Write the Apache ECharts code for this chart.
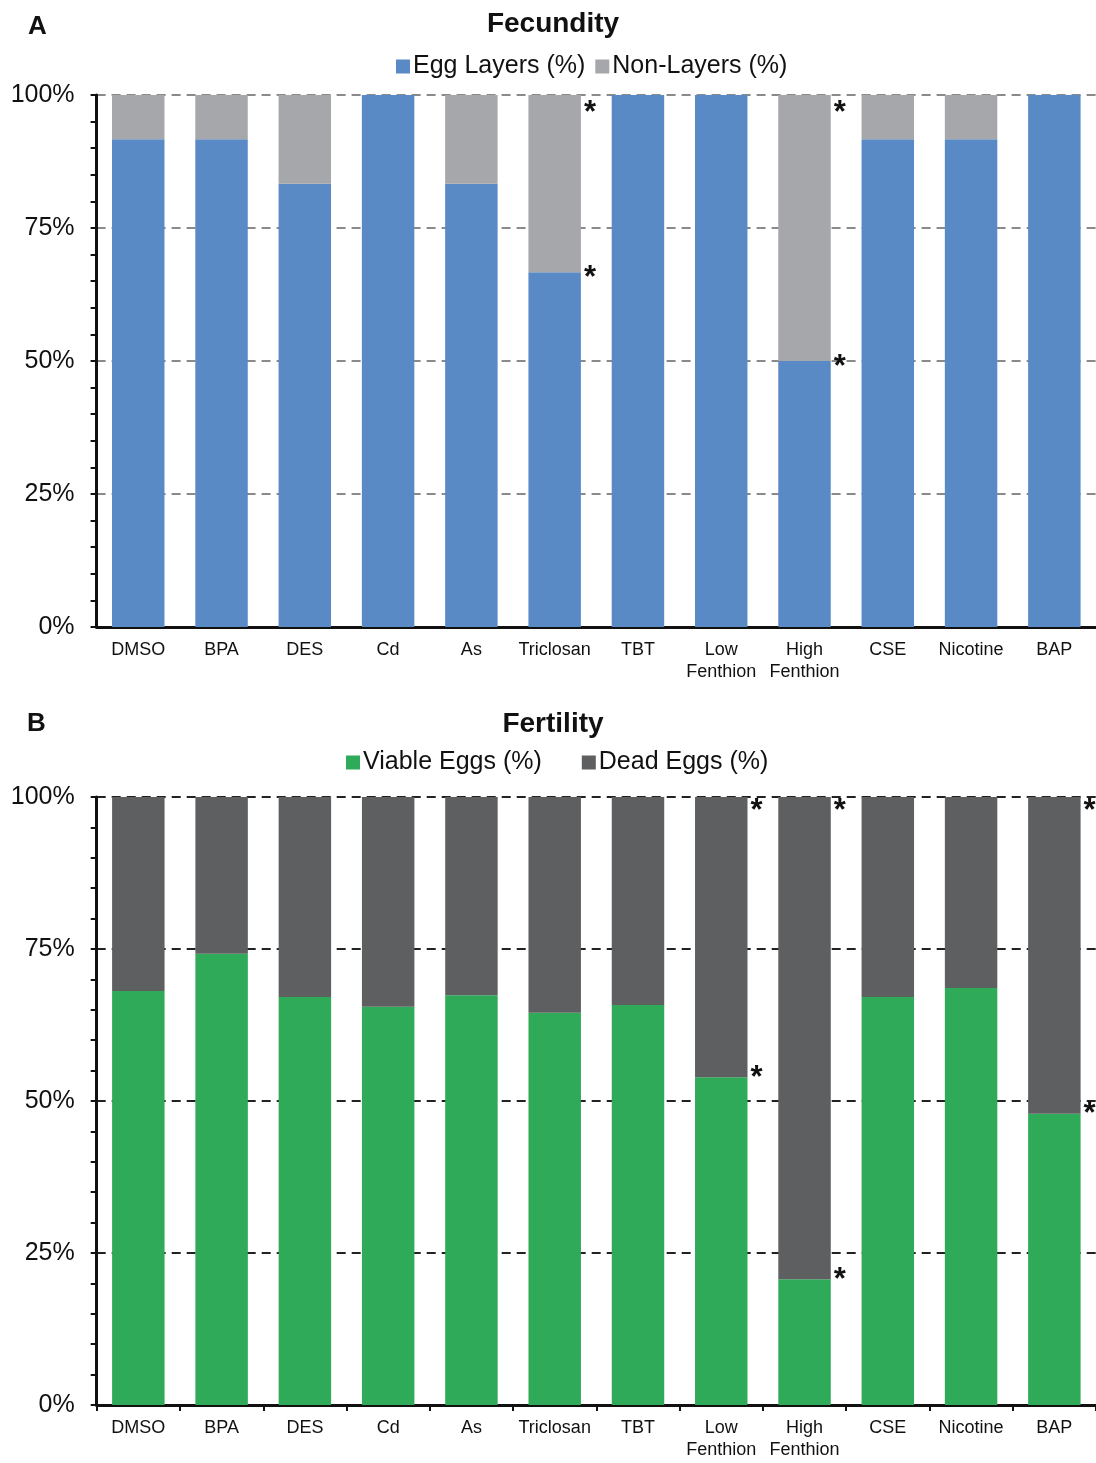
<!DOCTYPE html>
<html>
<head>
<meta charset="utf-8">
<script src="https://cdn.jsdelivr.net/npm/echarts@6/dist/echarts.min.js"></script>
<style>
html,body{margin:0;padding:0;background:#fff;}
#chart{width:1096px;height:1463px;}
</style>
</head>
<body>
<div id="chart"></div>
<script>
// ---- data ----
const categories = ['DMSO', 'BPA', 'DES', 'Cd', 'As', 'Triclosan', 'TBT', 'Low\nFenthion', 'High\nFenthion', 'CSE', 'Nicotine', 'BAP'];
const yTickValues = [0, 25, 50, 75, 100];

const eggLayers = [91.67, 91.67, 83.33, 100, 83.33, 66.67, 100, 100, 50, 91.67, 91.67, 100];
const nonLayers = [8.33, 8.33, 16.67, 0, 16.67, 33.33, 0, 0, 50, 8.33, 8.33, 0];
const fecunditySig = [0, 0, 0, 0, 0, 1, 0, 0, 1, 0, 0, 0];

const viableEggs = [68.1, 74.2, 67.1, 65.5, 67.4, 64.5, 65.8, 53.9, 20.7, 67.1, 68.6, 47.9];
const deadEggs = [31.9, 25.8, 32.9, 34.5, 32.6, 35.5, 34.2, 46.1, 79.3, 32.9, 31.4, 52.1];
const fertilitySig = [0, 0, 0, 0, 0, 0, 0, 1, 1, 0, 0, 1];

// ---- chart ----
const FONT = '"Liberation Sans", Arial, sans-serif';
const INK = '#111111';

function withFlags(values, flags) {
  return values.map((v, i) => flags[i] ? { value: v, label: { show: true } } : v);
}
function starLabel(dy) {
  return {
    show: false, formatter: '*', position: ['100%', 0], offset: [3, dy],
    align: 'left', verticalAlign: 'middle',
    fontFamily: FONT, fontSize: 31, fontWeight: 'bold', color: INK
  };
}
function yAxisCfg(gridIndex) {
  return {
    gridIndex, type: 'value', min: 0, max: 100, interval: 25,
    axisLine: { show: true, lineStyle: { color: INK, width: 3 } },
    axisTick: { show: true, inside: false, length: 6, lineStyle: { color: INK, width: 2 } },
    minorTick: { show: true, splitNumber: 5, length: 6, lineStyle: { color: INK, width: 2 } },
    axisLabel: {
      margin: 22, fontFamily: FONT, fontSize: 25, color: INK,
      formatter: v => yTickValues.includes(v) ? v + '%' : ''
    },
    splitLine: {
      show: true,
      lineStyle: gridIndex === 0
        ? { color: '#8a8a8a', width: 2, type: [9, 6] }
        : { color: '#222222', width: 2, type: [9, 6] }
    }
  };
}
function xAxisCfg(gridIndex, ticks) {
  return {
    gridIndex, type: 'category', data: categories,
    axisLine: { show: true, lineStyle: { color: INK, width: 3 } },
    axisTick: { show: ticks, alignWithLabel: false, length: 6, lineStyle: { color: INK, width: 2 } },
    axisLabel: {
      interval: 0, margin: 12, fontFamily: FONT, fontSize: 18, color: INK, lineHeight: 22
    },
    splitLine: { show: false }
  };
}

const chart = echarts.init(document.getElementById('chart'), null, { renderer: 'canvas' });
chart.setOption({
  animation: false,
  backgroundColor: '#ffffff',
  title: [
    { text: 'A', left: 23, top: 9, textStyle: { fontFamily: FONT, fontSize: 26, fontWeight: 'bold', color: INK } },
    { text: 'Fecundity', left: 548, textAlign: 'center', top: 5, textStyle: { fontFamily: FONT, fontSize: 28, fontWeight: 'bold', color: INK } },
    { text: 'B', left: 22, top: 706, textStyle: { fontFamily: FONT, fontSize: 26, fontWeight: 'bold', color: INK } },
    { text: 'Fertility', left: 548, textAlign: 'center', top: 705, textStyle: { fontFamily: FONT, fontSize: 28, fontWeight: 'bold', color: INK } }
  ],
  legend: [
    {
      data: ['Egg Layers (%)', 'Non-Layers (%)'], left: 391, top: 49,
      itemWidth: 14, itemHeight: 14, itemGap: 10, icon: 'rect',
      textStyle: { fontFamily: FONT, fontSize: 25, color: INK, padding: [0, 0, 0, -2] }
    },
    {
      data: ['Viable Eggs (%)', 'Dead Eggs (%)'], left: 341, top: 745,
      itemWidth: 14, itemHeight: 14, itemGap: 40, icon: 'rect',
      textStyle: { fontFamily: FONT, fontSize: 25, color: INK, padding: [0, 0, 0, -2] }
    }
  ],
  grid: [
    { left: 96.6, top: 95, width: 1000.8, height: 532, containLabel: false },
    { left: 96.7, top: 797, width: 1003, height: 608, containLabel: false }
  ],
  xAxis: [xAxisCfg(0, false), xAxisCfg(1, true)],
  yAxis: [yAxisCfg(0), yAxisCfg(1)],
  series: [
    {
      name: 'Egg Layers (%)', type: 'bar', stack: 'A', xAxisIndex: 0, yAxisIndex: 0,
      barCategoryGap: '37%', itemStyle: { color: '#5A8AC6' },
      label: starLabel(6), data: withFlags(eggLayers, fecunditySig)
    },
    {
      name: 'Non-Layers (%)', type: 'bar', stack: 'A', xAxisIndex: 0, yAxisIndex: 0,
      barCategoryGap: '37%', itemStyle: { color: '#A6A7AB' },
      label: starLabel(18), data: withFlags(nonLayers, fecunditySig)
    },
    {
      name: 'Viable Eggs (%)', type: 'bar', stack: 'B', xAxisIndex: 1, yAxisIndex: 1,
      barCategoryGap: '37%', itemStyle: { color: '#2EAA58' },
      label: starLabel(1), data: withFlags(viableEggs, fertilitySig)
    },
    {
      name: 'Dead Eggs (%)', type: 'bar', stack: 'B', xAxisIndex: 1, yAxisIndex: 1,
      barCategoryGap: '37%', itemStyle: { color: '#5E5F61' },
      label: starLabel(14), data: withFlags(deadEggs, fertilitySig)
    }
  ]
});
</script>
</body>
</html>
